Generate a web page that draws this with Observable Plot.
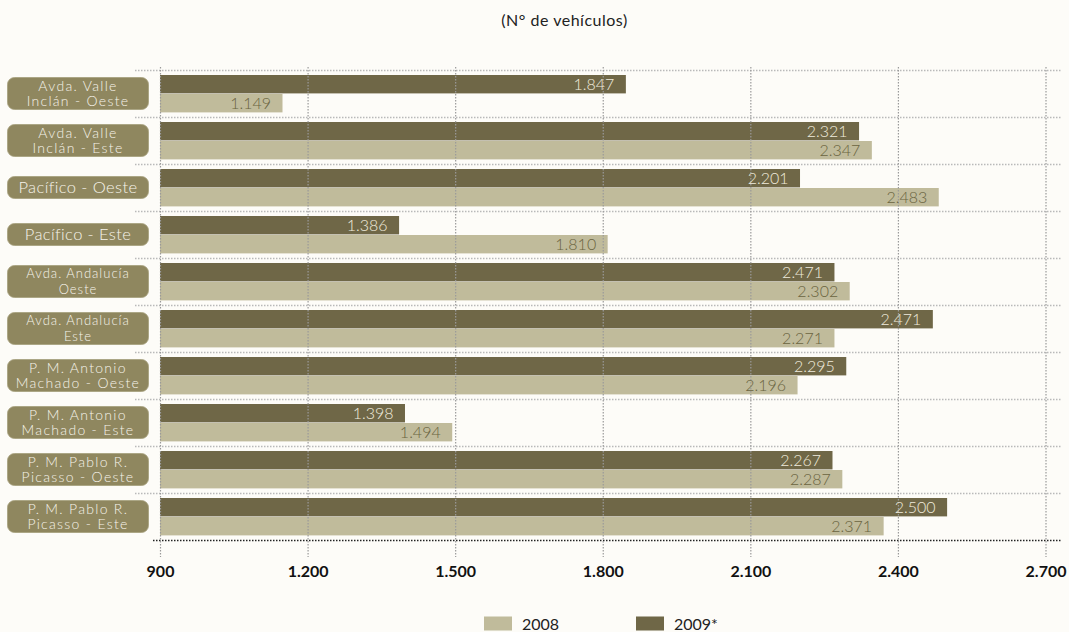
<!DOCTYPE html>
<html>
<head>
<meta charset="utf-8">
<script src="https://cdn.jsdelivr.net/npm/d3@7"></script>
<script src="https://cdn.jsdelivr.net/npm/@observablehq/plot@0.6"></script>
<style>
  html, body { margin: 0; padding: 0; background: #fdfcf8; }
  body { width: 1069px; height: 632px; overflow: hidden; font-family: Lato, "Open Sans", sans-serif; }
  #title { height: 40px; line-height: 40px; text-align: center; font-size: 16px; color: #222; letter-spacing: 0.5px; font-weight: 400; padding-left: 60px; box-sizing: border-box; }
  #legend { position: relative; height: 32px; font-size: 16px; color: #222; font-weight: 400; }
  .lg-item { position: absolute; top: 23px; display: flex; align-items: center; }
  .lg-sw { width: 28px; height: 14px; margin-right: 10px; }
</style>
</head>
<body>
<div id="title">(N° de vehículos)</div>
<div id="chart"></div>
<div id="legend"></div>
<script>
// ---- data ----
const categories = [
  "Avda. Valle\nInclán - Oeste",
  "Avda. Valle\nInclán - Este",
  "Pacífico - Oeste",
  "Pacífico - Este",
  "Avda. Andalucía\nOeste",
  "Avda. Andalucía\nEste",
  "P. M. Antonio\nMachado - Oeste",
  "P. M. Antonio\nMachado - Este",
  "P. M. Pablo R.\nPicasso - Oeste",
  "P. M. Pablo R.\nPicasso - Este"
];
// bar lengths as drawn in the source (2009*)
const values2009 = [1847, 2321, 2201, 1386, 2271, 2471, 2295, 1398, 2267, 2500];
// printed labels for 2009* (source prints 2.471 on the Andalucía Oeste bar)
const labels2009 = ["1.847", "2.321", "2.201", "1.386", "2.471", "2.471", "2.295", "1.398", "2.267", "2.500"];
const values2008 = [1149, 2347, 2483, 1810, 2302, 2271, 2196, 1494, 2287, 2371];
const xTicks = [900, 1200, 1500, 1800, 2100, 2400, 2700];
const seriesNames = ["2008", "2009*"];

// ---- style ----
const colDark = "#6f6747";
const colLight = "#c0bb9b";
const colBox = "#8f875f";
const xDomain = [xTicks[0], xTicks[xTicks.length - 1]];

const fmt = d3.formatLocale({decimal: ",", thousands: ".", grouping: [3], currency: ["", ""]}).format(",d");

const rows2009 = categories.map((c, i) => ({cat: c, value: values2009[i], label: labels2009[i]}));
const rows2008 = categories.map((c, i) => ({cat: c, value: values2008[i], label: fmt(values2008[i])}));

const W = 1069, H = 560, mTop = 27, mBottom = 57, mLeft = 160, mRight = 23.5;
const bw = (H - mTop - mBottom) / categories.length;
const padT = 5, barH = 19;

function separators(index, scales, values, dims) {
  const y = scales.y;
  const b = y.bandwidth ? y.bandwidth() : bw;
  const g = d3.create("svg:g");
  categories.forEach(c => {
    g.append("line")
      .attr("x1", 135).attr("x2", 1062)
      .attr("y1", y(c) + 0.5).attr("y2", y(c) + 0.5)
      .attr("stroke", "#b9b9b9").attr("stroke-width", 1.3)
      .attr("stroke-dasharray", "1.5,1.5");
  });
  const yb = y(categories[categories.length - 1]) + b;
  g.append("line")
    .attr("x1", 153).attr("x2", 1062)
    .attr("y1", yb + 0.5).attr("y2", yb + 0.5)
    .attr("stroke", "#222").attr("stroke-width", 1.3)
    .attr("stroke-dasharray", "1.5,1.5");
  return g.node();
}

function labelBoxes(index, scales, values, dims) {
  const y = scales.y;
  const b = y.bandwidth ? y.bandwidth() : bw;
  const g = d3.create("svg:g");
  categories.forEach(c => {
    const lines = c.split("\n");
    const cy = y(c) + b / 2;
    const h = lines.length > 1 ? 32 : 22;
    g.append("rect")
      .attr("x", 7.5).attr("y", cy - h / 2)
      .attr("width", 141).attr("height", h)
      .attr("rx", 7).attr("ry", 7)
      .attr("fill", colBox)
      .attr("stroke", "#a69f7c").attr("stroke-width", 0.8);
    const two = lines.length > 1;
    const fs = two ? (lines[0].length >= 15 ? 13 : 14) : 16.5;
    const t = g.append("text")
      .attr("x", 78).attr("text-anchor", "middle")
      .attr("fill", "#f6f3ea")
      .attr("font-size", fs)
      .attr("font-weight", 300)
      .attr("letter-spacing", two ? (lines[0].length >= 15 ? 1.0 : 1.3) : 0.4)
      .attr("font-family", "Lato, 'Open Sans', sans-serif");
    if (two) {
      lines.forEach((l, k) => {
        t.append("tspan").attr("x", 78).attr("y", cy + (k === 0 ? -7.8 : 7.8)).attr("dy", "0.35em").text(l);
      });
    } else {
      t.attr("y", cy).attr("dy", "0.35em").text(lines[0]);
    }
  });
  return g.node();
}

const chart = Plot.plot({
  width: W,
  height: H,
  marginTop: mTop,
  marginBottom: mBottom,
  marginLeft: mLeft,
  marginRight: mRight,
  style: {background: "transparent", fontFamily: "Lato, 'Open Sans', sans-serif"},
  x: {domain: xDomain, axis: null, label: null},
  y: {domain: categories, padding: 0, axis: null, label: null},
  marks: [
    separators,
    Plot.barX(rows2009, {
      y: "cat", x1: () => xDomain[0], x2: "value",
      fill: colDark, insetTop: padT, insetBottom: bw - padT - barH
    }),
    Plot.barX(rows2008, {
      y: "cat", x1: () => xDomain[0], x2: "value",
      fill: colLight, insetTop: padT + barH, insetBottom: bw - padT - 2 * barH
    }),
    Plot.ruleX(xTicks, {
      x: d => d, stroke: "#9a9a9a", strokeWidth: 1.2, strokeDasharray: "1.5,1.5",
      insetBottom: -14
    }),
    Plot.text(rows2009, {
      y: "cat", x: "value", text: "label", textAnchor: "end", dx: -12,
      dy: padT + barH / 2 - bw / 2, fill: "#efebdd", fontSize: 16, fontWeight: 300
    }),
    Plot.text(rows2008, {
      y: "cat", x: "value", text: "label", textAnchor: "end", dx: -12,
      dy: padT + 1.5 * barH - bw / 2, fill: "#6a6440", fontSize: 16, fontWeight: 300
    }),
    Plot.axisX(xTicks, {
      tickSize: 0, tickPadding: 22, tickFormat: fmt, label: null,
      fontSize: 16, fontWeight: "bold", fill: "#111"
    }),
    labelBoxes
  ]
});
document.getElementById("chart").appendChild(chart);

// legend
const legend = d3.select("#legend");
const legendItems = [
  {name: seriesNames[0], color: colLight, left: 484},
  {name: seriesNames[1], color: colDark, left: 636}
];
legendItems.forEach(it => {
  const d = legend.append("div").attr("class", "lg-item").style("left", it.left + "px").style("transform", "translateY(-50%)");
  d.append("div").attr("class", "lg-sw").style("background", it.color);
  d.append("span").text(it.name);
});
</script>
</body>
</html>
